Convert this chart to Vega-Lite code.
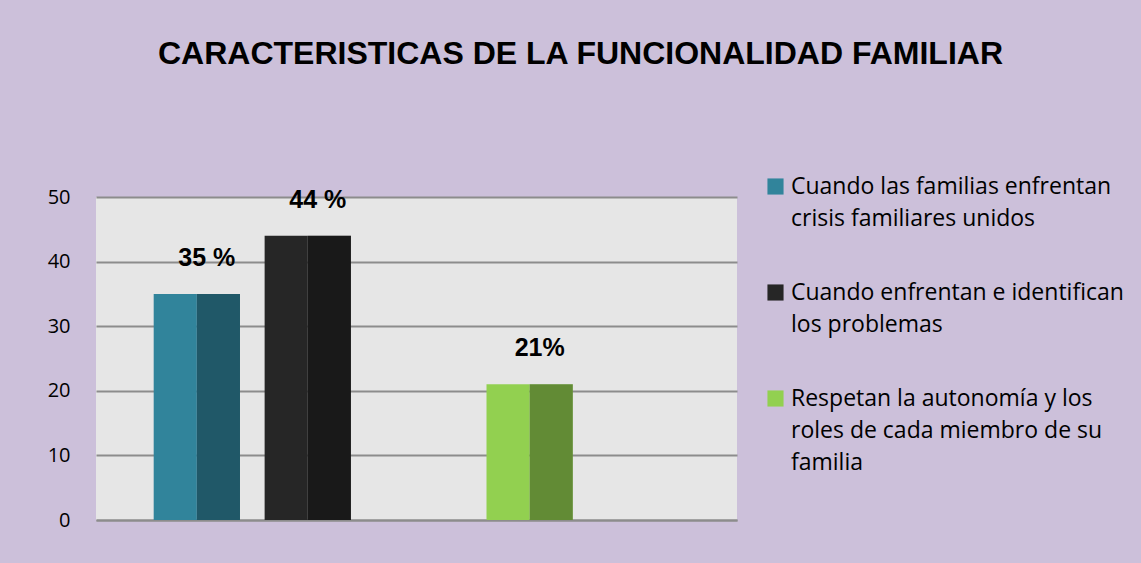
{
  "$schema": "https://vega.github.io/schema/vega-lite/v6.json",
  "autosize": "none",
  "width": 641,
  "height": 323,
  "padding": {"left": 96, "top": 197, "right": 404, "bottom": 43},
  "background": "#ccc0da",
  "title": {
    "text": "CARACTERISTICAS DE LA FUNCIONALIDAD FAMILIAR",
    "font": "Liberation Sans",
    "fontSize": 32,
    "fontWeight": "bold",
    "color": "#000000",
    "anchor": "middle",
    "frame": "group",
    "dx": 164,
    "offset": 104
  },
  "config": {
    "view": {"fill": "#e6e6e6", "stroke": null},
    "font": "Open Sans"
  },
  "data": {
    "values": [
      {"serie": "Cuando las familias enfrentan crisis familiares unidos", "face": "front", "valor": 35, "etiqueta": "35 %"},
      {"serie": "Cuando las familias enfrentan crisis familiares unidos", "face": "side", "valor": 35, "etiqueta": "35 %"},
      {"serie": "Cuando enfrentan e identifican los problemas", "face": "front", "valor": 44, "etiqueta": "44 %"},
      {"serie": "Cuando enfrentan e identifican los problemas", "face": "side", "valor": 44, "etiqueta": "44 %"},
      {"serie": "Respetan la autonomía y los roles de cada miembro de su familia", "face": "front", "valor": 21, "etiqueta": "21%"},
      {"serie": "Respetan la autonomía y los roles de cada miembro de su familia", "face": "side", "valor": 21, "etiqueta": "21%"}
    ]
  },
  "encoding": {
    "x": {
      "field": "serie",
      "type": "nominal",
      "sort": null,
      "scale": {
        "domain": [
          "Cuando las familias enfrentan crisis familiares unidos",
          "Cuando enfrentan e identifican los problemas",
          " ",
          "Respetan la autonomía y los roles de cada miembro de su familia"
        ],
        "paddingInner": 0.222,
        "paddingOuter": 1.0785,
        "align": 0.26
      },
      "axis": {"labels": false, "ticks": false, "title": null, "domainColor": "#8c8c8c", "domainWidth": 2}
    },
    "y": {
      "field": "valor",
      "type": "quantitative",
      "scale": {"domain": [0, 50]},
      "axis": {
        "values": [0, 10, 20, 30, 40, 50],
        "title": null,
        "ticks": false,
        "domain": false,
        "labelFontSize": 20,
        "labelColor": "#000000",
        "labelPadding": 26,
        "gridColor": "#8c8c8c",
        "gridWidth": 2
      }
    }
  },
  "layer": [
    {
      "mark": {"type": "bar"},
      "encoding": {
        "xOffset": {"field": "face", "type": "nominal", "sort": ["front", "side"], "scale": {"paddingInner": 0, "paddingOuter": 0}},
        "color": {
          "field": "serie",
          "type": "nominal",
          "sort": null,
          "scale": {
            "domain": [
              "Cuando las familias enfrentan crisis familiares unidos",
              "Cuando enfrentan e identifican los problemas",
              "Respetan la autonomía y los roles de cada miembro de su familia"
            ],
            "range": ["#31849b", "#262626", "#92d050"]
          },
          "legend": {
            "title": null,
            "orient": "none",
            "legendX": 668,
            "legendY": -22,
            "symbolType": "square",
            "symbolSize": 260,
            "symbolStrokeWidth": 0,
            "labelFont": "Open Sans",
            "labelFontSize": 23,
            "labelColor": "#000000",
            "labelLimit": 400,
            "labelOffset": 4,
            "rowPadding": 50,
            "encoding": {"labels": {"lineHeight": {"value": 32}}},
            "labelExpr": "datum.label == 'Cuando las familias enfrentan crisis familiares unidos' ? ['Cuando las familias enfrentan', 'crisis familiares unidos'] : datum.label == 'Cuando enfrentan e identifican los problemas' ? ['Cuando enfrentan e identifican', 'los problemas'] : ['Respetan la autonomía y los', 'roles de cada miembro de su', 'familia']"
          }
        }
      }
    },
    {
      "transform": [{"filter": "datum.face == 'side'"}],
      "mark": {"type": "bar", "color": "#000000", "opacity": 0.33},
      "encoding": {
        "xOffset": {"field": "face", "type": "nominal", "sort": ["front", "side"], "scale": {"domain": ["front", "side"], "paddingInner": 0, "paddingOuter": 0}}
      }
    },
    {
      "transform": [{"filter": "datum.face == 'front'"}],
      "mark": {"type": "text", "font": "Liberation Sans", "fontSize": 25, "fontWeight": "bold", "color": "#000000", "dy": -28, "dx": 10, "baseline": "alphabetic"},
      "encoding": {
        "text": {"field": "etiqueta"}
      }
    }
  ]
}
